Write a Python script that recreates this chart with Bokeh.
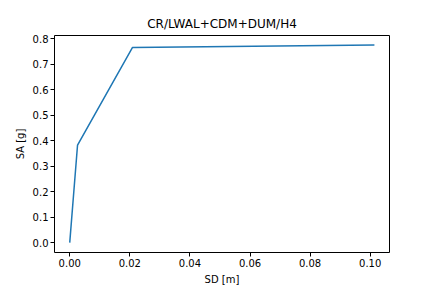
from bokeh.plotting import figure
from bokeh.models import Range1d, FixedTicker
from bokeh.embed import file_html
from bokeh.resources import INLINE

sd = [0.0, 0.0026, 0.0209, 0.1014]
sa = [0.0, 0.383, 0.766, 0.775]
x_ticks = [0.0, 0.02, 0.04, 0.06, 0.08, 0.10]
y_ticks = [0.0, 0.1, 0.2, 0.3, 0.4, 0.5, 0.6, 0.7, 0.8]
title = "CR/LWAL+CDM+DUM/H4"

p = figure(width=432, height=288, output_backend="svg", toolbar_location=None,
           x_range=Range1d(-0.00507, 0.10642), y_range=Range1d(-0.0387, 0.8127),
           min_border_left=54, min_border_right=43, min_border_top=35, min_border_bottom=36)
p.title.text = title
p.title.align = "center"
p.title.text_font = "DejaVu Sans"
p.title.text_font_size = "12px"
p.title.text_font_style = "normal"
p.title.text_color = "black"

p.line(sd, sa, line_color="#1f77b4", line_width=1.5)

p.xgrid.visible = False
p.ygrid.visible = False
p.outline_line_color = "black"
p.outline_line_width = 1
p.background_fill_color = "white"
p.border_fill_color = "white"

p.xaxis.ticker = FixedTicker(ticks=x_ticks)
p.yaxis.ticker = FixedTicker(ticks=y_ticks)
p.xaxis.major_label_overrides = {t: f"{t:.2f}" for t in x_ticks}
p.yaxis.major_label_overrides = {t: f"{t:.1f}" for t in y_ticks}
p.xaxis.axis_label = "SD [m]"
p.yaxis.axis_label = "SA [g]"
for ax in (p.xaxis[0], p.yaxis[0]):
    ax.axis_label_text_font = "DejaVu Sans"
    ax.axis_label_text_font_size = "10px"
    ax.axis_label_text_font_style = "normal"
    ax.axis_label_text_color = "black"
    ax.major_label_text_font = "DejaVu Sans"
    ax.major_label_text_font_size = "10px"
    ax.major_label_text_color = "black"
    ax.minor_tick_line_color = None
    ax.major_tick_out = 4
    ax.major_tick_in = 0
    ax.axis_line_color = None
    ax.major_tick_line_color = "black"
    ax.major_label_standoff = 2
    ax.axis_label_standoff = 4

open("out.html", "w").write(file_html(p, INLINE))
